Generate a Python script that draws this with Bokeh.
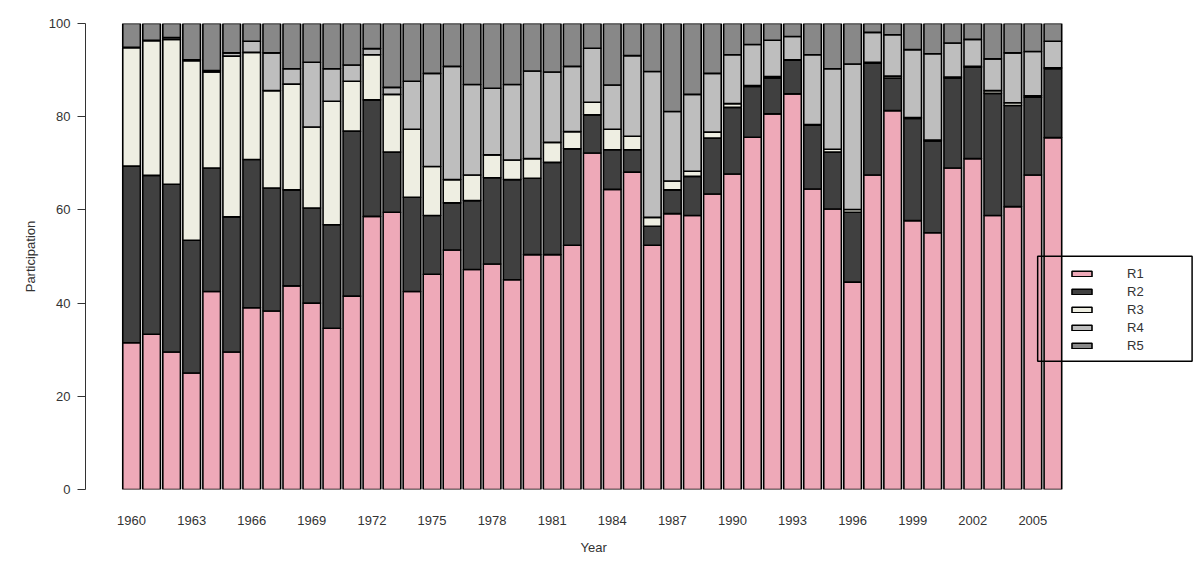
from bokeh.plotting import figure
from bokeh.models import Range1d, FixedTicker, Legend, LegendItem, BoxAnnotation, ColumnDataSource, Title
from bokeh.embed import file_html
from bokeh.resources import INLINE

years = list(range(1960, 2007))
R1 = [31.5, 33.3, 29.5, 25.0, 42.5, 29.5, 39.0, 38.3, 43.7, 40.0, 34.6, 41.5, 58.6, 59.5, 42.5, 46.2,
      51.4, 47.2, 48.4, 45.0, 50.4, 50.4, 52.4, 72.2, 64.4, 68.1, 52.4, 59.2, 58.8, 63.4, 67.7, 75.6,
      80.6, 84.9, 64.5, 60.2, 44.5, 67.5, 81.3, 57.7, 55.1, 69.0, 71.0, 58.8, 60.7, 67.5, 75.5]
R2 = [37.9, 34.1, 36.0, 28.5, 26.5, 29.0, 31.8, 26.4, 20.6, 20.4, 22.2, 35.4, 25.0, 12.9, 20.2, 12.6,
      10.1, 14.8, 18.5, 21.5, 16.4, 19.8, 20.7, 8.2, 8.5, 4.8, 4.1, 5.1, 8.4, 12.0, 14.3, 10.9,
      7.7, 7.2, 13.7, 12.2, 15.0, 24.0, 7.0, 21.9, 19.7, 19.3, 19.6, 26.2, 21.7, 16.7, 14.8]
R3 = [25.4, 28.9, 31.1, 38.5, 20.6, 34.5, 23.0, 20.9, 22.7, 17.4, 26.5, 10.7, 9.7, 12.4, 14.6, 10.5,
      5.0, 5.5, 4.9, 4.2, 4.2, 4.3, 3.7, 2.7, 4.4, 2.9, 1.9, 1.9, 1.1, 1.3, 0.8, 0.2,
      0.3, 0.1, 0.1, 0.6, 0.6, 0.2, 0.4, 0.2, 0.2, 0.2, 0.2, 0.6, 0.6, 0.3, 0.2]
R4 = [0.1, 0.1, 0.4, 0.2, 0.3, 0.7, 2.4, 8.1, 3.3, 13.9, 7.0, 3.5, 1.3, 1.5, 10.3, 20.0,
      24.3, 19.4, 14.3, 16.2, 18.8, 15.1, 14.0, 11.6, 9.5, 17.3, 31.3, 14.9, 16.5, 12.6, 10.5, 8.8,
      7.8, 5.0, 15.0, 17.3, 31.2, 6.4, 8.9, 14.6, 18.5, 7.3, 5.8, 6.8, 10.7, 9.5, 5.7]
R5 = [5.1, 3.6, 3.0, 7.8, 10.1, 6.3, 3.8, 6.3, 9.7, 8.3, 9.7, 8.9, 5.4, 13.7, 12.4, 10.7,
      9.2, 13.1, 13.9, 13.1, 10.2, 10.4, 9.2, 5.3, 13.2, 6.9, 10.3, 18.9, 15.2, 10.7, 6.7, 4.5,
      3.6, 2.8, 6.7, 9.7, 8.7, 1.9, 2.4, 5.6, 6.5, 4.2, 3.4, 7.6, 6.3, 6.0, 3.8]
series_names = ["R1", "R2", "R3", "R4", "R5"]
colors = ["#EEA9B8", "#404040", "#EEEEE2", "#BEBEBE", "#888888"]
tick_years = list(range(1960, 2007, 3))

FONT = "Liberation Sans"
TXT = "#333333"

src = ColumnDataSource(dict(year=years, R1=R1, R2=R2, R3=R3, R4=R4, R5=R5))

p = figure(width=1196, height=565, output_backend="svg", toolbar_location=None,
           x_range=Range1d(1957.7, 2013.17), y_range=Range1d(0, 100),
           min_border_left=85, min_border_right=0, min_border_top=23, min_border_bottom=76)
p.outline_line_color = None
p.grid.grid_line_color = None
p.background_fill_color = "white"

renderers = p.vbar_stack(series_names, x="year", width=0.88, source=src, fill_color=colors,
                         line_color="black", line_width=1.6)

# y axis
p.yaxis.ticker = FixedTicker(ticks=[0, 20, 40, 60, 80, 100])
p.yaxis.axis_line_color = "#333333"
p.yaxis.major_tick_line_color = "#333333"
p.yaxis.major_tick_out = 8
p.yaxis.major_tick_in = 0
p.yaxis.minor_tick_line_color = None
p.yaxis.major_label_standoff = 7
p.yaxis.major_label_text_font = FONT
p.yaxis.major_label_text_font_size = "13px"
p.yaxis.major_label_text_color = TXT
p.yaxis.axis_label = "Participation"
p.yaxis.axis_label_text_font = FONT
p.yaxis.axis_label_text_font_size = "13px"
p.yaxis.axis_label_text_font_style = "normal"
p.yaxis.axis_label_text_color = TXT
p.yaxis.axis_label_standoff = 8

# x axis
p.xaxis.ticker = FixedTicker(ticks=tick_years)
p.xaxis.axis_line_color = None
p.xaxis.major_tick_line_color = None
p.xaxis.minor_tick_line_color = None
p.xaxis.major_label_standoff = 20
p.xaxis.major_label_text_font = FONT
p.xaxis.major_label_text_font_size = "13px"
p.xaxis.major_label_text_color = TXT

# "Year" axis title, centred under the bar region (not the whole frame)
year_title = Title(text="Year", align="left", offset=495, standoff=21,
                   text_font=FONT, text_font_size="13px", text_font_style="normal",
                   text_color=TXT)
p.add_layout(year_title, "below")

# legend box
box = BoxAnnotation(left=2005.24, right=2012.95, bottom=27.53, top=50.06,
                    fill_alpha=0, line_color="black", line_alpha=1.0, line_width=1.5)
p.add_layout(box)

items = [LegendItem(label=n, renderers=[r]) for n, r in zip(series_names, renderers)]
legend = Legend(items=items, location=(984, 135), padding=0, spacing=0,
                glyph_width=25, glyph_height=7, label_height=18, label_standoff=33,
                label_text_font=FONT, label_text_font_size="13px", label_text_color=TXT,
                border_line_color=None, background_fill_alpha=0, margin=0)
p.add_layout(legend)

open("out.html", "w").write(file_html(p, INLINE))
